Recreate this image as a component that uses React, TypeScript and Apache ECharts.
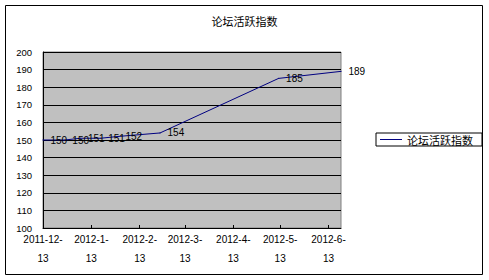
import React, { useEffect, useRef } from "react";
import * as echarts from "echarts";

const TITLE = "论坛活跃指数";
const SERIES_NAME = "论坛活跃指数";
const dates = ["2011-12-13", "2011-12-27", "2012-01-06", "2012-01-19", "2012-01-30", "2012-02-26", "2012-05-12", "2012-06-21"];
const values = [150, 150, 151, 151, 152, 154, 185, 189];
const tickDates = ["2011-12-13", "2012-01-13", "2012-02-13", "2012-03-13", "2012-04-13", "2012-05-13", "2012-06-13"];
const axisMinDate = "2011-12-13";
const axisMaxDate = "2012-06-21";
const yMin = 100;
const yMax = 200;
const yStep = 10;

const DAY = 86400000;
const utc = (s: string) => {
  const [y, m, d] = s.split("-").map(Number);
  return Date.UTC(y, m - 1, d);
};
const origin = utc(axisMinDate);
const dayOf = (s: string) => Math.round((utc(s) - origin) / DAY);

const FONT = "'Noto Sans CJK SC', 'Liberation Sans', sans-serif";
const NUM = "'Liberation Sans', Arial, sans-serif";

export default function App() {
  const ref = useRef<HTMLDivElement>(null);
  useEffect(() => {
    if (!ref.current) return;
    const chart = echarts.init(ref.current, undefined, { renderer: "svg" });
    const tickVals = tickDates.map(dayOf);
    chart.setOption({
      animation: false,
      backgroundColor: "#ffffff",
      title: {
        text: TITLE,
        left: "center",
        top: 10,
        textStyle: { fontFamily: FONT, fontSize: 11, fontWeight: "normal", color: "#000" },
      },
      graphic: [
        {
          type: "rect",
          shape: { x: 5.5, y: 5.5, width: 477, height: 269 },
          style: { fill: "none", stroke: "#000", lineWidth: 1 },
          silent: true,
        },
      ],
      legend: {
        left: 376,
        top: 133,
        orient: "vertical",
        padding: [1, 9, 1, 4],
        borderColor: "#000",
        borderWidth: 1,
        itemWidth: 22,
        itemHeight: 1,
        icon: "rect",
        itemGap: 0,
        itemStyle: { color: "#000080", opacity: 1 },
        textStyle: { fontFamily: FONT, fontSize: 11, color: "#000", lineHeight: 11 },
        data: [SERIES_NAME],
      },
      grid: {
        left: 43,
        top: 52,
        width: 298,
        height: 176,
        show: true,
        backgroundColor: "#c0c0c0",
        borderColor: "#808080",
        borderWidth: 1,
      },
      xAxis: {
        type: "value",
        min: dayOf(axisMinDate),
        max: dayOf(axisMaxDate),
        axisLine: { show: true, lineStyle: { color: "#000", width: 1 } },
        axisTick: { show: true, inside: true, length: 3, customValues: tickVals, lineStyle: { color: "#000" } },
        splitLine: { show: false },
        axisLabel: {
          customValues: tickVals,
          showMinLabel: true,
          showMaxLabel: true,
          margin: 6,
          fontFamily: NUM,
          fontSize: 10,
          color: "#000",
          rich: {
            a: { fontFamily: NUM, fontSize: 10, color: "#000", lineHeight: 10 },
            b: { fontFamily: NUM, fontSize: 10, color: "#000", lineHeight: 28 },
          },
          formatter: (v: number) => {
            const d = new Date(origin + v * DAY);
            return `{a|${d.getUTCFullYear()}-${d.getUTCMonth() + 1}-}\n{b|${d.getUTCDate()}}`;
          },
        },
      },
      yAxis: {
        type: "value",
        min: yMin,
        max: yMax,
        interval: yStep,
        axisLine: { show: true, lineStyle: { color: "#000", width: 1 } },
        axisTick: { show: false },
        splitLine: { show: true, lineStyle: { color: "#000", width: 1 } },
        axisLabel: { margin: 11, fontFamily: NUM, fontSize: 9.5, lineHeight: 10, color: "#000" },
      },
      series: [
        {
          name: SERIES_NAME,
          type: "line",
          data: dates.map((d, i) => [dayOf(d), values[i]]),
          symbol: "circle",
          symbolSize: 1,
          showSymbol: true,
          itemStyle: { color: "#000080" },
          lineStyle: { color: "#000080", width: 1 },
          label: {
            show: true,
            position: "right",
            distance: 7,
            fontFamily: NUM,
            fontSize: 10,
            color: "#000",
            formatter: (p: any) => String(p.value[1]),
          },
          labelLayout: { hideOverlap: false },
          emphasis: { disabled: true },
        },
      ],
    });
    return () => chart.dispose();
  }, []);
  return <div ref={ref} style={{ position: "absolute", left: 0, top: 0, width: 489, height: 280 }} />;
}
